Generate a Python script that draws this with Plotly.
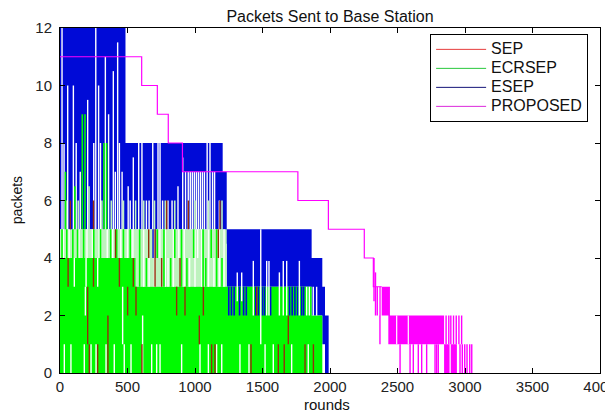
import plotly.graph_objects as go

# ---------------- data ----------------
x_ticks = [0, 500, 1000, 1500, 2000, 2500, 3000, 3500, 4000]
y_ticks = [0, 2, 4, 6, 8, 10, 12]

# ESEP: dense band envelopes (round start, round end, low packets, high packets)
esep_r0 = [0, 485, 1205, 1235, 1864, 1943, 1963]
esep_r1 = [485, 1205, 1235, 1864, 1943, 1963, 1990]
esep_lo = [5, 5, 4.5, 3, 2, 1, 0]
esep_hi = [12, 8, 7, 5, 4, 3, 2]
# ESEP single strokes (round, low, high)
esep_s_r = [690, 705, 82, 1250, 1270, 1290, 1330, 1360, 1380, 1450, 1470, 1500, 1515, 1560, 1700, 1720, 1740, 1760, 1790, 1805]
esep_s_lo = [4, 4, 5, 2, 2, 2, 2, 2, 2, 2, 2, 2, 2, 2, 2, 2, 2, 2, 2, 2]
esep_s_hi = [6, 5, 6, 3, 3, 3, 3, 3, 3, 3, 3, 3, 3, 3, 3, 3, 3, 3, 3, 3]

# ECRSEP: solid band and sparse (mixed) band envelopes
ecr_r0 = [0, 560, 1230, 1864]
ecr_r1 = [560, 1230, 1864, 1943]
ecr_lo = [0, 0, 0, 0]
ecr_hi = [4, 3, 3, 2]
ecr_mix_r0 = [0, 560]
ecr_mix_r1 = [560, 1235]
ecr_mix_lo = [4, 3]
ecr_mix_hi = [5, 5]
# ECRSEP single strokes (spikes and strokes inside the mixed band)
ecr_s_r = [165, 185, 325, 345, 40, 110,
           15, 50, 95, 130, 175, 250, 300, 375, 420, 470, 520,
           590, 640, 720, 770, 820, 850, 900, 940, 990, 1060, 1080, 1120, 1160, 1200]
ecr_s_lo = [5, 5, 5, 5, 5, 5,
            4, 4, 4, 4, 4, 4, 4, 4, 4, 4, 4,
            3, 3, 4, 3, 3, 4, 3, 3, 4, 3, 3, 4, 3, 3]
ecr_s_hi = [9, 9, 8, 8, 7, 6.5,
            5, 5, 5, 5, 5, 5, 5, 5, 5, 5, 5,
            5, 4, 5, 5, 4, 5, 5, 4, 5, 5, 4, 5, 5, 4]
ecr_pale_r = [45, 135, 215, 310, 380, 470, 560, 620, 700, 780, 850, 1000, 1100, 1200]
ecr_pale_lo = [5, 5, 5, 5, 5, 5, 5, 5, 5, 5, 5, 5, 5, 5]
ecr_pale_hi = [6, 6, 6.5, 6, 6, 6, 6, 6, 6, 6, 6, 6, 6, 6]

# Rounds where no series reaches a level (white gaps): round, low, high
gap_r = [15, 57, 99, 205, 265, 286, 336, 360, 395, 427,
         30, 120, 150, 250, 300, 410, 440, 460,
         505, 543, 583, 607, 687, 726, 741, 874, 909, 930, 950, 965, 980, 995, 1010, 1025, 1040, 1055, 1070, 1090, 1111, 1130, 1145,
         520, 640, 660, 760, 800, 830, 1180,
         1313, 1346, 1432, 1487, 1531, 1548, 1625, 1654, 1679, 1773, 1827, 1847, 1876, 1901,
         32, 81, 180, 230, 267, 341, 402, 476, 526, 612, 679, 716, 741, 901, 1037, 1099, 1160, 1198, 1333, 1400, 1519, 1580, 1716, 1839,
         188, 464, 612, 106, 193, 279,
         25, 68, 140, 200, 240, 290, 350, 390, 450, 500, 540,
         620, 660, 700, 740, 780, 800, 840, 880, 920, 960, 1000, 1020, 1050, 1100, 1140, 1180, 1215]
gap_lo = [5, 5, 5, 5, 5, 5, 5, 5, 5, 5,
          5, 5, 5, 5, 5, 5, 5, 5,
          5, 5, 5, 5, 5, 5, 5, 5, 5, 5, 5, 5, 5, 5, 5, 5, 5, 5, 5, 5, 5, 5, 5,
          5, 5, 5, 5, 5, 5, 5,
          2.5, 2.5, 2, 1, 2, 2, 2, 2, 2, 2, 2, 2, 2, 2,
          0, 0, 0, 0, 0, 0, 0, 0, 0, 0, 0, 0, 0, 0, 0, 0, 0, 0, 0, 0, 0, 0, 0, 0,
          2, 1, 1, 3, 3, 3,
          4, 4, 4, 4, 4, 4, 4, 4, 4, 4, 4,
          3, 3, 3, 4, 3, 3, 3, 4, 3, 3, 3, 4, 3, 3, 3, 3, 3]
gap_hi = [12, 10, 10, 9.5, 12, 10, 11, 9, 10.5, 11.5,
          8, 8, 7, 8, 8, 7, 8, 7,
          6.5, 7.5, 8, 8, 8, 8, 8, 6.5, 7.5, 7, 7, 7, 7, 7, 7, 7, 7, 7, 7, 8, 8, 7, 7,
          6, 6, 6, 6, 6, 6, 6,
          3.5, 3.5, 3.9, 5, 3.9, 3.9, 3.5, 3.9, 3.9, 3.9, 3, 3, 3, 3,
          1, 1, 1, 1, 1, 1, 1, 1, 1, 1, 1, 1, 1, 1, 1, 1, 1, 1, 1, 1, 1, 1, 1, 1,
          3, 3, 2, 4, 4, 4,
          5, 5, 5, 5, 5, 5, 5, 5, 5, 5, 5,
          5, 4, 5, 5, 5, 4, 5, 5, 5, 4, 5, 5, 5, 5, 4, 5, 5]

# SEP strokes (round, low, high)
sep_r = [60, 76, 205, 217, 248, 248, 279, 355, 411, 440, 501, 543, 563, 607, 657, 704, 753, 790, 864, 889,
         926, 951, 1032, 1062, 1123, 1148, 1173, 1185, 1415, 1457, 1617, 1661, 1691, 1815, 1877]
sep_lo = [3, 5, 1, 0, 5, 3, 0, 0, 4, 3, 2, 3, 2, 0, 4, 3, 3, 5, 2, 3,
          2, 5, 1, 2, 0, 0, 4, 5, 0, 2, 0, 0, 1, 0, 0]
sep_hi = [4, 6, 3, 1, 6, 4, 1, 2, 5, 4, 3, 4, 3, 1, 5, 5, 4, 6, 3, 4,
          3, 6, 2, 3, 1, 1, 5, 6, 1, 3, 1, 1, 2, 1, 1]

# PROPOSED: stepped part (round where level starts, level)
prop_r = [0, 605, 721, 802, 907, 1762, 1988, 2254, 2321, 2383]
prop_v = [11, 10, 9, 8, 7, 6, 5, 4, 3, 3]
# PROPOSED dense bands
prop_b_r0 = [2383, 2432, 2845]
prop_b_r1 = [2444, 2845, 2940]
prop_b_lo = [2, 1, 0]
prop_b_hi = [3, 2, 1]
# PROPOSED strokes
prop_s_r = [2326, 2337, 2350, 2370, 2519, 2593, 2617, 2654, 2679, 2716, 2778, 2790, 2802,
            2860, 2880, 2895, 2915, 2935, 2955, 2975, 2963, 2980, 2998, 3015, 3035, 3050]
prop_s_lo = [2.5, 2, 2, 1, 0, 0, 0, 0, 0, 0, 0, 0, 0,
             1, 1, 1, 1, 1, 1, 1, 0, 0, 0, 0, 0, 0]
prop_s_hi = [4, 3.5, 3, 3, 1, 1, 1, 1, 1, 1, 1, 1, 1,
             2, 2, 2, 2, 2, 2, 2, 1, 1, 1, 1, 1, 1]
prop_gap_r = [2360, 2494, 2580, 2890]
prop_gap_lo = [2, 1, 1, 0]
prop_gap_hi = [3, 2, 2, 1]

legend_names = ["SEP", "ECRSEP", "ESEP", "PROPOSED"]

# ---------------- styles ----------------
GREEN = "rgb(0,250,0)"
PALE = "rgb(190,242,190)"
BLUE = "rgb(0,10,215)"
RED = "rgb(150,45,10)"
MAGENTA = "rgb(255,0,255)"
WHITE = "rgb(255,255,255)"
FONT = "Liberation Sans, Arial, sans-serif"
legend_colors = ["rgb(230,60,60)", "rgb(40,200,60)", "rgb(20,20,120)", "rgb(220,40,220)"]


def band_xy(r0, r1, lo, hi):
    xs, ys = [], []
    for a, b, l, h in zip(r0, r1, lo, hi):
        xs += [a, b, b, a, a, None]
        ys += [l, l, h, h, l, None]
    return xs, ys


def stroke_xy(r, lo, hi):
    xs, ys = [], []
    for a, l, h in zip(r, lo, hi):
        xs += [a, a, None]
        ys += [l, h, None]
    return xs, ys


fig = go.Figure()


def add_band(r0, r1, lo, hi, color):
    xs, ys = band_xy(r0, r1, lo, hi)
    fig.add_trace(go.Scatter(x=xs, y=ys, mode="lines", fill="toself", fillcolor=color,
                             line=dict(width=0, color=color), showlegend=False, hoverinfo="skip"))


def add_strokes(r, lo, hi, color, width=1.6):
    xs, ys = stroke_xy(r, lo, hi)
    fig.add_trace(go.Scatter(x=xs, y=ys, mode="lines", line=dict(width=width, color=color),
                             showlegend=False, hoverinfo="skip"))


add_band(esep_r0, esep_r1, esep_lo, esep_hi, BLUE)
add_band(ecr_mix_r0, ecr_mix_r1, ecr_mix_lo, ecr_mix_hi, PALE)
add_band(ecr_r0, ecr_r1, ecr_lo, ecr_hi, GREEN)
add_strokes(esep_s_r, esep_s_lo, esep_s_hi, BLUE)
add_strokes(gap_r, gap_lo, gap_hi, WHITE, 1.4)
add_strokes(ecr_pale_r, ecr_pale_lo, ecr_pale_hi, PALE)
add_strokes(ecr_s_r, ecr_s_lo, ecr_s_hi, GREEN)
add_strokes(sep_r, sep_lo, sep_hi, RED, 1.4)

add_band(prop_b_r0, prop_b_r1, prop_b_lo, prop_b_hi, MAGENTA)
add_strokes(prop_s_r, prop_s_lo, prop_s_hi, MAGENTA, 1.4)
add_strokes(prop_gap_r, prop_gap_lo, prop_gap_hi, WHITE, 1.2)
fig.add_trace(go.Scatter(x=prop_r, y=prop_v, mode="lines", line=dict(color=MAGENTA, width=1.2, shape="hv"),
                         showlegend=False, hoverinfo="skip"))

# legend entries (text size set per entry, row height from a smaller legend font)
for name, col in zip(legend_names, legend_colors):
    fig.add_trace(go.Scatter(x=[None], y=[None], mode="lines",
                             name='<span style="font-size:16px">%s</span>' % name,
                             line=dict(color=col, width=1)))

axis_common = dict(showgrid=False, zeroline=False, showline=True, linecolor="black", linewidth=1,
                   mirror="allticks", ticks="inside", ticklen=5, tickcolor="black",
                   ticklabeloverflow="allow",
                   tickfont=dict(family=FONT, size=15, color="#222"))

# The page body adds an 8 px offset, so the figure is 8 px smaller and margins compensate.
fig.update_layout(
    width=605, height=404,
    margin=dict(l=52, r=13, t=20, b=39, autoexpand=False),
    paper_bgcolor="white", plot_bgcolor="white",
    title=dict(text="Packets Sent to Base Station", x=0.5, xref="paper", xanchor="center",
               y=1 - 8 / 404, yref="container", yanchor="middle",
               font=dict(family=FONT, size=16, color="#111")),
    xaxis=dict(range=[0, 4000], tickvals=x_ticks, ticktext=[str(v) for v in x_ticks], **axis_common),
    yaxis=dict(range=[0, 12], tickvals=y_ticks, ticktext=[str(v) for v in y_ticks],
               ticklabelstandoff=4, **axis_common),
    legend=dict(x=0.978, y=0.983, xanchor="right", yanchor="top", bgcolor="white",
                bordercolor="black", borderwidth=1, font=dict(family=FONT, size=12, color="#111"),
                itemwidth=50, tracegroupgap=0),
    annotations=[
        dict(text="rounds", x=0.494, y=-0.0899, xref="paper", yref="paper", showarrow=False,
             xanchor="center", yanchor="middle", font=dict(family=FONT, size=15, color="#111")),
        dict(text="packets", x=-0.0796, y=0.501, xref="paper", yref="paper", showarrow=False, textangle=-90,
             xanchor="center", yanchor="middle", font=dict(family=FONT, size=14, color="#111")),
    ],
)

fig.write_html("out.html")
